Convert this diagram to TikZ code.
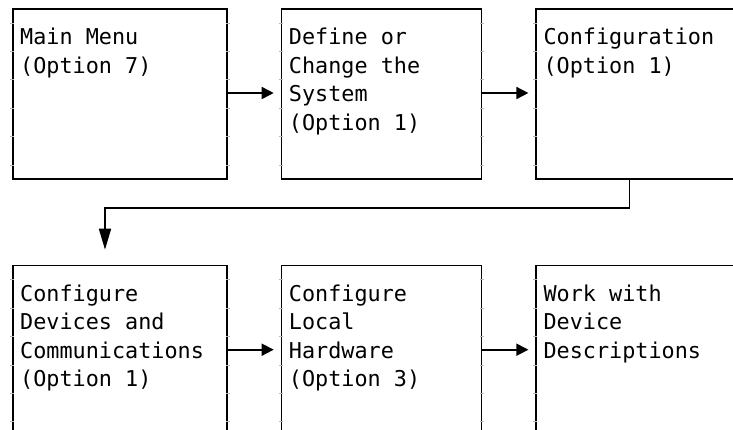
\documentclass[tikz,border=0pt]{standalone}
\usepackage{fontspec}
\newfontfamily\menufont{DejaVu Sans Mono}
\usetikzlibrary{arrows.meta,positioning}

\begin{document}
\begin{tikzpicture}[x=1pt,y=-1pt,node distance=53pt,
        menubox/.style={draw,line width=1.7pt,inner sep=0pt,minimum width=214pt,minimum height=170pt},
        menutext/.style={anchor=north west,align=left,inner sep=0pt,
            font=\fontsize{21.8pt}{28.5pt}\selectfont\menufont},
        celltick/.style={gray!55,line width=0.7pt},
        flow/.style={line width=1.7pt,-{Triangle[length=12pt,width=12pt]},shorten >=7pt},
        flowdown/.style={line width=1.7pt,-{Triangle[length=21pt,width=12pt]},shorten >=15pt}]
        \useasboundingbox (0,0) rectangle (733,429);
        \clip (0,0) rectangle (733,429);
        % first row
        \node[menubox,anchor=north west] (mainmenu) at (12,8) {};
        \node[menubox,minimum width=200pt,right=of mainmenu] (define) {};
        \node[menubox,right=of define] (config) {};
        % second row
        \node[menubox,below=85pt of mainmenu] (devices) {};
        \node[menubox,minimum width=200pt,right=of devices] (hardware) {};
        \node[menubox,right=of hardware] (descriptions) {};
        % little marks of the character cells on the side edges
        \foreach \b in {mainmenu,define,config,devices,hardware,descriptions}
            \foreach \k in {0,...,5} {
                \draw[celltick] ([yshift=-15pt-\k*28.4pt]\b.north west) +(-2,0) -- +(2,0);
                \draw[celltick] ([yshift=-15pt-\k*28.4pt]\b.north east) +(-2,0) -- +(2,0);
            }
        % texts
        \node[menutext] (mainmenutext) at ([shift={(8pt,-20pt)}]mainmenu.north west)
            {Main Menu\\(Option 7)};
        \node[menutext] (definetext) at ([shift={(8pt,-20pt)}]define.north west)
            {Define or\\Change the\\System\\(Option 1)};
        \node[menutext] (configtext) at ([shift={(8pt,-20pt)}]config.north west)
            {Configuration\\(Option 1)};
        \node[menutext] (devicestext) at ([shift={(8pt,-20pt)}]devices.north west)
            {Configure\\Devices and\\Communications\\(Option 1)};
        \node[menutext] (hardwaretext) at ([shift={(8pt,-20pt)}]hardware.north west)
            {Configure\\Local\\Hardware\\(Option 3)};
        \node[menutext] (descriptionstext) at ([shift={(8pt,-20pt)}]descriptions.north west)
            {Work with\\Device\\Descriptions};
        % arrows
        \draw[flow] ([yshift=-85pt]mainmenu.north east) -- ([yshift=-85pt]define.north west);
        \draw[flow] ([yshift=-85pt]define.north east) -- ([yshift=-85pt]config.north west);
        \draw[flowdown] ([xshift=94pt]config.south west) -- ++(0,28) -| ([xshift=93pt]devices.north west);
        \draw[flow] ([yshift=-85pt]devices.north east) -- ([yshift=-85pt]hardware.north west);
        \draw[flow] ([yshift=-85pt]hardware.north east) -- ([yshift=-85pt]descriptions.north west);
\end{tikzpicture}
\end{document}
